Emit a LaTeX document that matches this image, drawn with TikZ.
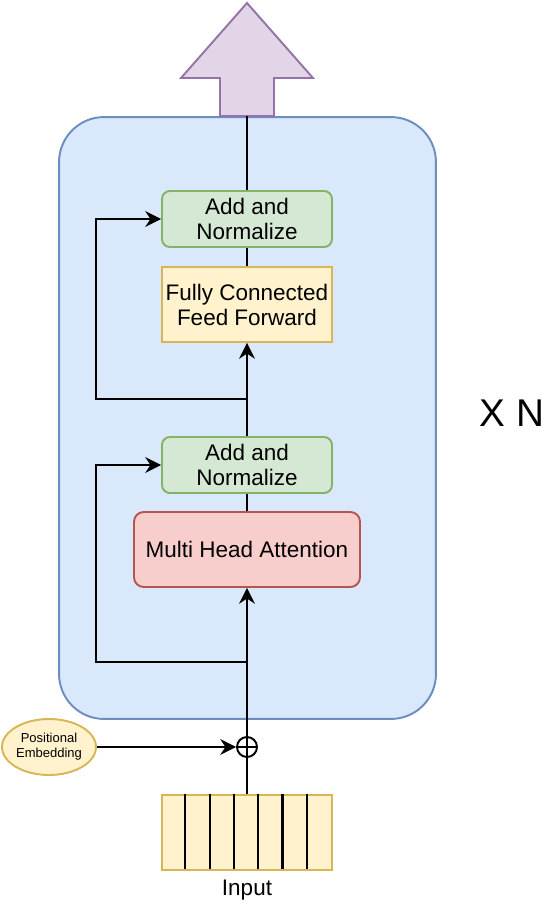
\documentclass[tikz,border=0pt]{standalone}
\usepackage{fontspec}
\setmainfont{Liberation Sans}
\usepackage{tikz}
\usetikzlibrary{arrows.meta, positioning, shapes.geometric}

\definecolor{layerfill}{HTML}{DAE8FC}
\definecolor{layerdraw}{HTML}{6C8EBF}
\definecolor{addfill}{HTML}{D5E8D4}
\definecolor{adddraw}{HTML}{82B366}
\definecolor{ffnfill}{HTML}{FFF2CC}
\definecolor{ffndraw}{HTML}{D6B656}
\definecolor{mhafill}{HTML}{F8CECC}
\definecolor{mhadraw}{HTML}{B85450}
\definecolor{outfill}{HTML}{E1D5E7}
\definecolor{outdraw}{HTML}{9673A6}

\tikzset{
    box/.style={draw, line width=1.1pt, minimum width=3.4cm, align=center, inner sep=0pt,
        font=\fontsize{12.8pt}{14.2pt}\selectfont},
    addbox/.style={box, fill=addfill, draw=adddraw, minimum height=1.12cm, rounded corners=4.5pt},
    arr/.style={-{Stealth[length=9pt,width=9pt,inset=3pt]}},
}

\begin{document}
\begin{tikzpicture}[x=0.02cm, y=-0.02cm, line width=1.2pt]
    \useasboundingbox (0,0) rectangle (544,904);

    \node[draw=layerdraw, fill=layerfill, line width=1.1pt, rounded corners=0.9cm,
        minimum width=7.54cm, minimum height=12.04cm] (layer) at (247.5,418) {};
    \draw[draw=outdraw, fill=outfill, line width=1.1pt] (247,3) -- (313,78) -- (274,78) -- (274,116)
        -- (220,116) -- (220,78) -- (181,78) -- cycle;
    \coordinate (out) at (247,116);

    \node[addbox] (add1) at (247,219) {Add and\\Normalize};
    \node[box, fill=ffnfill, draw=ffndraw, minimum height=1.5cm] (ffn) at (247,304.5) {Fully Connected\\Feed Forward};
    \node[addbox] (add2) at (247,465) {Add and\\Normalize};
    \node[box, fill=mhafill, draw=mhadraw, minimum width=4.52cm, minimum height=1.5cm,
        rounded corners=5.5pt] (mha) at (247,549.5) {Multi Head Attention};
    \node[circle, draw, line width=1.1pt, minimum size=0.4cm, inner sep=0pt,
        path picture={\draw[line width=1.1pt] (path picture bounding box.north) -- (path picture bounding box.south)
            (path picture bounding box.west) -- (path picture bounding box.east);}] (plus) at (247,747) {};
    \node[ellipse, draw=ffndraw, fill=ffnfill, line width=1.1pt, minimum width=1.88cm, minimum height=1.12cm,
        inner sep=0pt, align=center, font=\fontsize{7.4pt}{8.4pt}\selectfont] (pos) at (49,747) {Positional\\Embedding};
    \node[box, fill=ffnfill, draw=ffndraw, minimum height=1.5cm] (inp) at (247,832.5) {};
    \foreach \i in {1,...,6}
        \draw (inp.north west) ++(\i*24.29,0) -- ++(0,75);
    \node[font=\fontsize{12.8pt}{14pt}\selectfont] (inlabel) at (247,890) {Input};
    \node[font=\fontsize{22pt}{24pt}\selectfont] (xn) at (512,413) {X N};

    \coordinate (j1) at (247,399);
    \coordinate (j2) at (247,662);
    \draw (add1) -- (out);
    \draw (ffn) -- (add1);
    \draw[arr] (add2) -- (ffn);
    \draw[arr] (j1) -- ++(-151,0) |- (add1.west);
    \draw (mha) -- (add2);
    \draw[arr] (plus) -- (mha);
    \draw[arr] (j2) -- ++(-151,0) |- (add2.west);
    \draw[arr] (pos) -- (plus);
    \draw (inp) -- (plus);
\end{tikzpicture}
\end{document}
